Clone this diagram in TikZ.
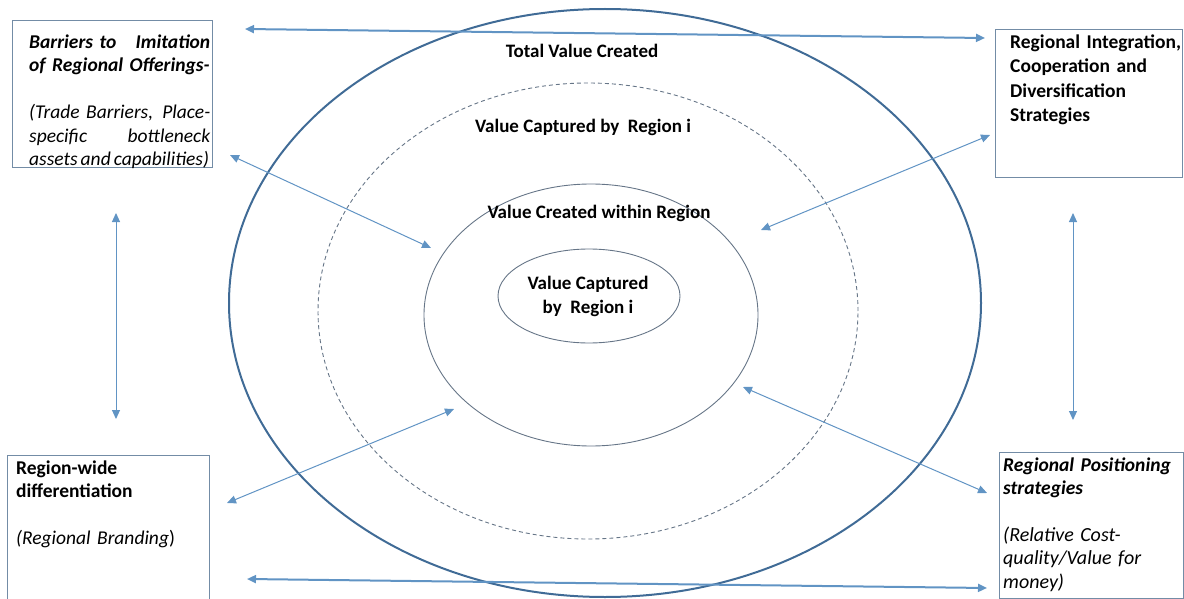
\documentclass[tikz,border=0pt]{standalone}
\usepackage{fontspec}
\setmainfont{Carlito}
\usetikzlibrary{arrows.meta,shapes.geometric}
\definecolor{ringblue}{rgb}{0.25,0.42,0.59}
\definecolor{ringgrey}{rgb}{0.40,0.46,0.53}
\definecolor{arrowblue}{rgb}{0.38,0.58,0.77}
\definecolor{boxline}{rgb}{0.45,0.55,0.65}
% a justified line: two parts pushed to the given width
\newcommand{\spread}[3]{\makebox[#1][s]{#2\hfill #3}}

\begin{document}
\begin{tikzpicture}[x=1pt,y=-1pt,
  every node/.style={font=\fontsize{19.5}{23.5}\selectfont},
  ring/.style={ellipse,inner sep=0pt},
  boxframe/.style={draw=boxline,line width=1pt,anchor=north west,inner sep=0pt},
  note/.style={anchor=base west,inner sep=0pt,align=left,text width=200pt},
  lbl/.style={anchor=base,inner sep=0pt,font=\fontsize{19}{24}\selectfont\bfseries},
  link/.style={draw=arrowblue,line width=1pt,{Triangle[length=9pt,width=8pt]}-{Triangle[length=9pt,width=8pt]}},
  wide/.style={link,line width=2pt}]
\useasboundingbox (0,0) rectangle (1184,599);

% nested value rings
\node[ring,draw=ringblue,line width=2pt,minimum width=752pt,minimum height=588pt] (total) at (605,303) {};
\node[ring,draw=ringgrey,line width=0.9pt,dash pattern=on 4pt off 3pt,minimum width=540pt,minimum height=456pt] (captured) at (588,311) {};
\node[ring,draw=ringgrey,line width=0.9pt,minimum width=334pt,minimum height=262pt] (created) at (591,315) {};
\node[ring,draw=ringgrey,line width=0.9pt,minimum width=182pt,minimum height=94pt] (core) at (589,296) {};

\node[lbl] (total-lbl) at (582,57.5) {Total Value Created};
\node[lbl] (captured-lbl) at (583,132.5) {Value Captured by\ \ Region i};
\node[lbl] (created-lbl) at (599,218.5) {Value Created within Region};
\node[lbl,anchor=center,align=center] (core-lbl) at (588,296) {Value Captured\\by\ \ Region i};

% the four strategy boxes
\node[boxframe,minimum width=200pt,minimum height=147pt] (barriers) at (12,20) {};
\node[note] (barriers-txt) at (29,48.5)
  {{\bfseries\itshape \spread{181pt}{Barriers to}{Imitation}\\of Regional Offerings-}\\[23.5pt]
   {\itshape \spread{181pt}{(Trade Barriers,}{Place-}\\\spread{181pt}{specific}{bottleneck}\\
    assets\hspace{3pt}and\hspace{3pt}capabilities)}};

\node[boxframe,minimum width=187pt,minimum height=148pt] (integration) at (995,29) {};
\node[note,font=\fontsize{19.5}{24.3}\selectfont\bfseries] (integration-txt) at (1010,48.5)
  {Regional Integration,\\Cooperation and\\Diversification\\Strategies};

\node[boxframe,minimum width=202pt,minimum height=152pt] (branding) at (7,455) {};
\node[note] (branding-txt) at (16,474)
  {{\bfseries Region-wide\\differentiation}\\[23pt]{\itshape (Regional Branding})};

\node[boxframe,minimum width=184pt,minimum height=146pt] (positioning) at (999,452) {};
\node[note] (positioning-txt) at (1003,471)
  {{\bfseries\itshape Regional Positioning\\strategies}\\[23pt]
   {\fontsize{20}{23.5}\selectfont\itshape (Relative Cost-\\quality/Value for\\money)}};

% arrow ends
\coordinate (top-l) at (245,29);
\coordinate (top-r) at (985,38);
\coordinate (bot-l) at (247,579);
\coordinate (bot-r) at (987,588);
\coordinate (left-t) at (116,213);
\coordinate (left-b) at (116,419);
\coordinate (right-t) at (1073,213);
\coordinate (right-b) at (1073,420);
\coordinate (tl-out) at (230,155);
\coordinate (tl-in) at (431,248);
\coordinate (tr-out) at (990,135);
\coordinate (tr-in) at (761,230);
\coordinate (bl-out) at (227,503);
\coordinate (bl-in) at (454,409);
\coordinate (br-out) at (987,493);
\coordinate (br-in) at (743,387);

\draw[wide] (top-l) -- (top-r);
\draw[wide] (bot-l) -- (bot-r);
\draw[link] (left-t) -- (left-b);
\draw[link] (right-t) -- (right-b);
\draw[link] (tl-out) -- (tl-in);
\draw[link] (tr-out) -- (tr-in);
\draw[link] (bl-out) -- (bl-in);
\draw[link] (br-out) -- (br-in);
\end{tikzpicture}
\end{document}
